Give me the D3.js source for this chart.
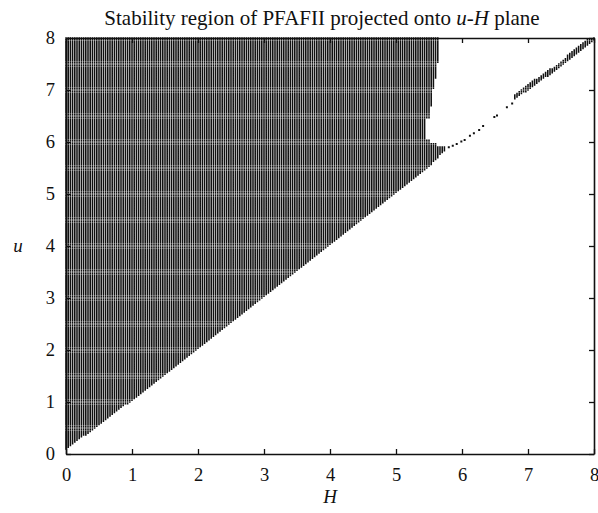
<!DOCTYPE html>
<html>
<head>
<meta charset="utf-8">
<script src="https://cdn.jsdelivr.net/npm/d3@7"></script>
<style>
  body { margin: 0; background: #fff; }
  text { font-family: "Liberation Serif", "Times New Roman", serif; fill: #111; }
</style>
</head>
<body>
<script>
var svgWidth = 598;
var svgHeight = 513;

var margin = { top: 38, right: 4, bottom: 59, left: 66 };
var width = svgWidth - margin.left - margin.right;
var height = svgHeight - margin.top - margin.bottom;

// tick values for both axes
var hTicks = [0, 1, 2, 3, 4, 5, 6, 7, 8];
var uTicks = [0, 1, 2, 3, 4, 5, 6, 7, 8];

// lower edge of the stable region
var lowerH = [0, 1, 2, 3, 4, 5, 5.5, 5.75];
var lowerU = [0.08, 1.03, 2.03, 3.03, 4.02, 5.02, 5.52, 5.85];

// right edge (largest stable H) for each u near the notch
var rightU = [5.85, 5.92, 5.92, 5.98, 5.98, 6.05, 6.05, 6.45, 6.45, 6.68, 6.68, 7.03, 7.03, 7.22, 7.22, 7.51, 7.51, 8.0];
var rightH = [5.75, 5.75, 5.62, 5.62, 5.52, 5.52, 5.46, 5.46, 5.5, 5.5, 5.54, 5.54, 5.57, 5.57, 5.61, 5.61, 5.66, 5.66];

// isolated stable points on the lower branch
var branchH = [5.8, 5.86, 5.92, 5.99, 6.04, 6.12, 6.18, 6.26, 6.32, 6.49, 6.53, 6.68, 6.76];
var branchU = [5.9, 5.93, 5.96, 6.01, 6.04, 6.12, 6.17, 6.23, 6.31, 6.48, 6.51, 6.67, 6.74];

// thin stable band from H = 6.8 to 8
var bandH = [6.8, 7.1, 7.4, 7.65, 7.9, 8.0];
var bandLo = [6.82, 7.08, 7.36, 7.6, 7.86, 7.95];
var bandHi = [6.9, 7.2, 7.46, 7.72, 7.98, 8.0];

// grid resolution of the sampled parameter plane
var stepH = 1 / 30;
var stepU = 1 / 30;

var svg = d3.select("body")
  .append("svg")
  .attr("width", svgWidth)
  .attr("height", svgHeight);

var chartGroup = svg.append("g")
  .attr("transform", `translate(${margin.left}, ${margin.top})`);

var xScale = d3.scaleLinear().domain([0, 8]).range([0, width]);
var yScale = d3.scaleLinear().domain([0, 8]).range([height, 0]);

var lowerEdge = d3.scaleLinear().domain(lowerH).range(lowerU).clamp(true);
var rightEdge = d3.scaleLinear().domain(rightU).range(rightH).clamp(true);
var bandLow = d3.scaleLinear().domain(bandH).range(bandLo).clamp(true);
var bandHigh = d3.scaleLinear().domain(bandH).range(bandHi).clamp(true);

// collect stable grid points
var pts = [];
var nH = Math.round(8 / stepH);
var nU = Math.round(8 / stepU);
for (var i = 0; i <= nH; i++) {
  var h = i * stepH;
  for (var j = 0; j <= nU; j++) {
    var u = j * stepU;
    var inMain = u >= lowerEdge(h) && (u < 5.85 ? true : h <= rightEdge(u));
    var inBand = h >= bandH[0] && u >= bandLow(h) && u <= bandHigh(h);
    if (inMain || inBand) pts.push([h, u, 0]);
  }
}
branchH.forEach(function(h, k) { pts.push([h, branchU[k], 1]); });

// draw every point as a small square in one path
function square(p) {
  var w = p[2] ? 2 : 1.55, s = p[2] ? 2 : 1.66;
  var x = xScale(p[0]) - w / 2;
  var y = yScale(p[1]) - s / 2;
  return "M" + x.toFixed(2) + "," + y.toFixed(2) + "h" + w + "v" + s + "h" + (-w) + "z";
}

chartGroup.append("path")
  .attr("d", pts.map(square).join(""))
  .attr("fill", "#111");

// axes box with inward ticks
var tickLen = 5;
chartGroup.append("g")
  .attr("transform", `translate(0, ${height})`)
  .call(d3.axisBottom(xScale).tickValues(hTicks).tickSizeInner(-tickLen).tickSizeOuter(0).tickPadding(10))
  .call(g => g.selectAll("text").attr("font-size", "18.5px").attr("dy", "0.9em"));
chartGroup.append("g")
  .call(d3.axisTop(xScale).tickValues(hTicks).tickSizeInner(-tickLen).tickSizeOuter(0).tickFormat(""));
chartGroup.append("g")
  .call(d3.axisLeft(yScale).tickValues(uTicks).tickSizeInner(-tickLen).tickSizeOuter(0).tickPadding(11))
  .call(g => g.selectAll("text").attr("font-size", "18.5px"));
chartGroup.append("g")
  .attr("transform", `translate(${width}, 0)`)
  .call(d3.axisRight(yScale).tickValues(uTicks).tickSizeInner(-tickLen).tickSizeOuter(0).tickFormat(""));

chartGroup.selectAll(".domain").attr("stroke", "#111").attr("stroke-width", 1.6);
chartGroup.selectAll(".tick line").attr("stroke", "#111").attr("stroke-width", 1.3);
chartGroup.selectAll(".tick text").attr("fill", "#111").attr("font-family", "Liberation Serif, serif");

// title
var title = svg.append("text")
  .attr("x", margin.left + width / 2 - 8)
  .attr("y", 25)
  .attr("text-anchor", "middle")
  .attr("font-size", "21px");
title.append("tspan").text("Stability region of PFAFII projected onto ");
title.append("tspan").attr("font-style", "italic").text("u");
title.append("tspan").text("-");
title.append("tspan").attr("font-style", "italic").text("H");
title.append("tspan").text(" plane");

// axis labels
svg.append("text")
  .attr("x", margin.left + width / 2)
  .attr("y", 503)
  .attr("text-anchor", "middle")
  .attr("font-size", "19px")
  .attr("font-style", "italic")
  .text("H");

svg.append("text")
  .attr("x", 18)
  .attr("y", 252)
  .attr("text-anchor", "middle")
  .attr("font-size", "19px")
  .attr("font-style", "italic")
  .text("u");
</script>
</body>
</html>
